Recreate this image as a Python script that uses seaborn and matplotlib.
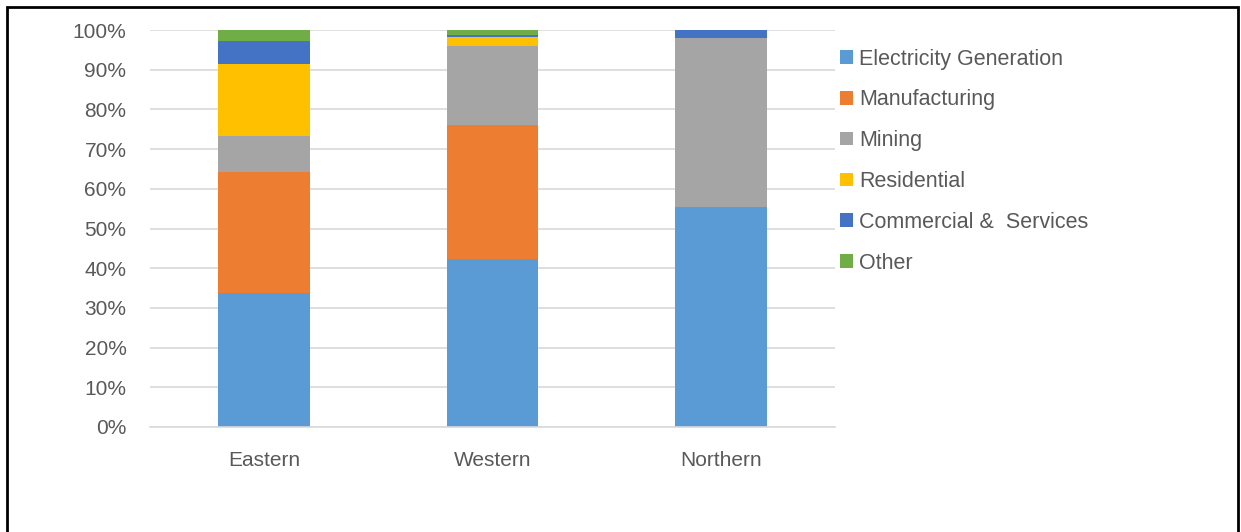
import numpy as np
import pandas as pd
import matplotlib
matplotlib.use("Agg")
import matplotlib.pyplot as plt
from matplotlib.patches import Patch, Rectangle
import seaborn as sns

regions = ["Eastern", "Western", "Northern"]
series_names = ["Electricity Generation", "Manufacturing", "Mining",
                "Residential", "Commercial &  Services", "Other"]
electricity = [33.7, 42.3, 55.4]
manufacturing = [30.6, 33.8, 0.0]
mining = [9.0, 19.9, 42.5]
residential = [18.1, 2.2, 0.0]
commercial = [5.8, 0.5, 2.1]
other = [2.8, 1.3, 0.0]
colors = ["#5B9BD5", "#ED7D31", "#A5A5A5", "#FFC000", "#4472C4", "#70AD47"]
yticks = [0, 10, 20, 30, 40, 50, 60, 70, 80, 90, 100]

sns.set_theme(style="white")
plt.rcParams['font.family'] = ['Liberation Sans', 'DejaVu Sans']

values = np.array([electricity, manufacturing, mining, residential, commercial, other])
cum = np.cumsum(values, axis=0)

fig = plt.figure(figsize=(12.41, 5.32), dpi=100)
ax = fig.add_axes([150/1241, 1-427/532, 685/1241, 397/532])

for i in reversed(range(len(series_names))):
    df = pd.DataFrame({"region": regions, "value": cum[i]})
    sns.barplot(data=df, x="region", y="value", color=colors[i], width=0.4,
                saturation=1, ax=ax, edgecolor="none", linewidth=0)

ax.set_ylim(0, 100)
ax.set_xlim(-0.5, 2.5)
ax.set_yticks(yticks)
ax.set_yticklabels([f"{t}%" for t in yticks])
ax.set_axisbelow(True)
ax.yaxis.grid(True, color="#D9D9D9", linewidth=1.2)
ax.xaxis.grid(False)
for s in ["top", "right", "left"]:
    ax.spines[s].set_visible(False)
ax.spines["bottom"].set_color("#D9D9D9")
ax.spines["bottom"].set_linewidth(1.2)
ax.set_xlabel("")
ax.set_ylabel("")
ax.tick_params(axis="y", length=0, pad=17, labelsize=15, labelcolor="#595959")
ax.tick_params(axis="x", length=0, pad=17, labelsize=15, labelcolor="#595959")

handles = [Patch(facecolor=c, edgecolor="none") for c in colors]
fig.legend(handles, series_names, loc="upper left",
           bbox_to_anchor=(831/1241, 1-40/532), frameon=False,
           fontsize=15.5, labelcolor="#595959", handlelength=0.6, handleheight=0.6,
           handletextpad=0.3, labelspacing=0.92, borderaxespad=0)

fig.patches.append(Rectangle((7/1241, -0.05), (1238-7)/1241, 1.05-7/532,
                             transform=fig.transFigure, fill=False,
                             edgecolor="black", linewidth=2))

fig.savefig("out.png", dpi=100)
